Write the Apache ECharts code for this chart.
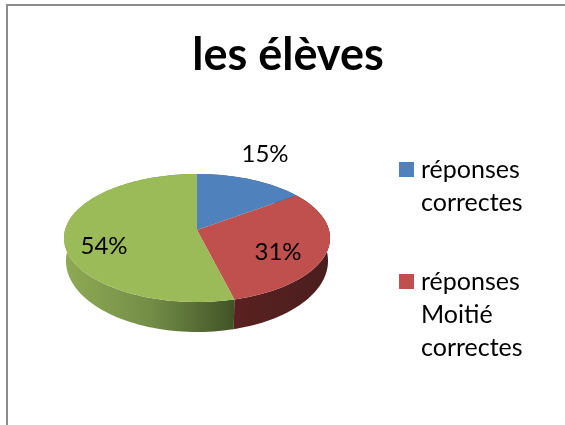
<!DOCTYPE html>
<html><head><meta charset="utf-8">
<style>html,body{margin:0;padding:0;background:#fff}#c{width:565px;height:425px}</style>
<script src="https://cdn.jsdelivr.net/npm/echarts@6/dist/echarts.min.js"></script>
</head><body><div id="c"></div>
<script>
const titleText = 'les élèves';
const categories = ['réponses\ncorrectes', 'réponses\nMoitié\ncorrectes', 'autres réponses'];
const values = [15, 31, 54];
const topColors = ['#4F81BD', '#C0504D', '#9BBB59'];
const wallStops = [
  [[0, '#3F5F8C'], [1, '#2F4A70']],
  [[0, '#5A2120'], [1, '#4A1E1E']],
  [[0, '#8FAA54'], [0.5, '#748E48'], [1, '#415326']]
];
const labelCenters = [[265, 154], [278, 252], [104, 246]];

const total = values.reduce((a, b) => a + b, 0);
const top_ = {cx: 197, cy: 230, a: 132, b: 63};
const base = {cx: 197, cy: 252, a: 130, b: 70};
const k = -0.125;
function project(p, deg) {
  const t = deg * Math.PI / 180, X = Math.sin(t), Y = -Math.cos(t), d = 1 + k * Y;
  return [p.cx + p.a * X / d, p.cy + p.b * Y / d];
}
function arc(p, from, to) {
  const pts = [], n = Math.max(2, Math.ceil((to - from) / 2));
  for (let i = 0; i <= n; i++) pts.push(project(p, from + (to - from) * i / n));
  return pts;
}
function sliceSpan(i, value) {
  const before = values.slice(0, i).reduce((a, b) => a + b, 0);
  return [before / total * 360, (before + value) / total * 360];
}
const series = categories.map((name, i) => ({
  name,
  type: 'custom',
  coordinateSystem: 'none',
  silent: true,
  animation: false,
  itemStyle: {color: topColors[i]},
  data: [[values[i]]],
  renderItem(params, api) {
    const v = api.value(0);
    const [from, to] = sliceSpan(i, v);
    const topEdge = arc(top_, from, to);
    const baseEdge = arc(base, from, to).reverse();
    return {
      type: 'group',
      children: [
        {type: 'polygon', z2: 1, shape: {points: topEdge.concat(baseEdge)},
         style: {fill: new echarts.graphic.LinearGradient(0, 0, 1, 0,
           wallStops[i].map(s => ({offset: s[0], color: s[1]})))}},
        {type: 'polygon', z2: 10, shape: {points: [[top_.cx, top_.cy]].concat(topEdge)},
         style: {fill: topColors[i]}},
        {type: 'text', z2: 20, x: labelCenters[i][0], y: labelCenters[i][1],
         style: {text: Math.round(v / total * 100) + '%', fill: '#000', font: '24px Lato, Carlito, sans-serif',
                 align: 'center', verticalAlign: 'middle'}}
      ]
    };
  }
}));
const lineH = 33, swatch = 15, iconW = 17, swatchTop = 9;
const chart = echarts.init(document.getElementById('c'), null, {renderer: 'canvas'});
chart.setOption({
  backgroundColor: '#fff',
  animation: false,
  title: {
    text: titleText, left: 283, top: 28, textAlign: 'center',
    textStyle: {fontFamily: 'Lato, Carlito, sans-serif', fontWeight: 'bold', fontSize: 45, color: '#000'}
  },
  legend: {
    orient: 'vertical', left: 399, top: 153, padding: 0,
    itemWidth: iconW, itemHeight: 99, itemGap: 46, selectedMode: false, itemStyle: {borderWidth: 0},
    textStyle: {fontFamily: 'Lato, Carlito, sans-serif', fontSize: 25, color: '#000', lineHeight: lineH},
    data: categories.slice(0, 2).map(name => {
      const h = name.split('\n').length * lineH;
      return {
        name,
        itemHeight: h,
        icon: `path://M0 ${swatchTop}H${swatch}V${swatchTop + swatch}H0ZM${iconW} ${h}L${iconW} ${h}L${iconW} 0Z`
      };
    })
  },
  graphic: [
    {type: 'rect', silent: true, shape: {x: 6, y: 4, width: 2, height: 421}, style: {fill: '#8C8C8C'}},
    {type: 'rect', silent: true, shape: {x: 6, y: 4, width: 559, height: 2}, style: {fill: '#8C8C8C'}}
  ],
  series
});
</script></body></html>
